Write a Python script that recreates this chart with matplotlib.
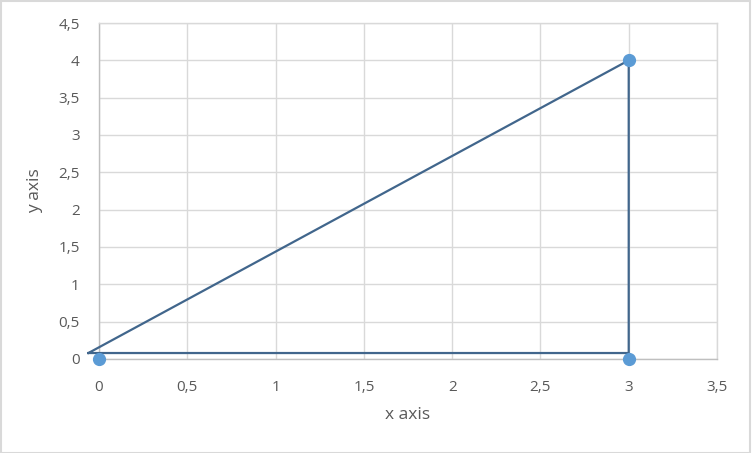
import matplotlib
matplotlib.use("Agg")
import matplotlib.pyplot as plt
from matplotlib.patches import Rectangle

# Data
point_x = [0, 3, 3]
point_y = [0, 0, 4]
line_x = [-0.06, 3.0, 3.0, -0.06]
line_y = [0.08, 0.08, 4.0, 0.08]
x_ticks = [0, 0.5, 1, 1.5, 2, 2.5, 3, 3.5]
x_tick_labels = ["0", "0,5", "1", "1,5", "2", "2,5", "3", "3,5"]
y_ticks = [0, 0.5, 1, 1.5, 2, 2.5, 3, 3.5, 4, 4.5]
y_tick_labels = ["0", "0,5", "1", "1,5", "2", "2,5", "3", "3,5", "4", "4,5"]

plt.rcParams['font.family'] = ['Open Sans', 'DejaVu Sans']

fig = plt.figure(figsize=(7.52, 4.53), dpi=100)
W, H = 752, 453
ax = fig.add_axes([99 / W, (H - 359) / H, (717 - 99) / W, (359 - 23) / H])

ax.plot(line_x, line_y, color="#41668C", linewidth=1.6, zorder=3, clip_on=False)
ax.plot(point_x, point_y, linestyle="none", marker="o", markersize=8.5,
        color="#5B9BD5", zorder=4, clip_on=False)

ax.set_xlim(0, 3.5)
ax.set_ylim(0, 4.5)
ax.set_xticks(x_ticks)
ax.set_xticklabels(x_tick_labels)
ax.set_yticks(y_ticks)
ax.set_yticklabels(y_tick_labels)
ax.tick_params(length=0, labelsize=11, labelcolor="#595959")
ax.tick_params(axis="x", pad=15)
ax.tick_params(axis="y", pad=14)
ax.grid(True, color="#D9D9D9", linewidth=1)
ax.set_axisbelow(True)
for s in ax.spines.values():
    s.set_color("#D9D9D9")
    s.set_linewidth(1)
ax.spines["left"].set_color("#BFBFBF")
ax.spines["bottom"].set_color("#BFBFBF")

ax.set_xlabel("x axis", fontsize=12.5, color="#595959", labelpad=9)
ax.set_ylabel("y axis", fontsize=12.5, color="#595959", labelpad=11)

fig.patches.append(Rectangle((0.001, 0.001), 0.997, 0.997, transform=fig.transFigure,
                             fill=False, edgecolor="#D9D9D9", linewidth=1.5))

fig.savefig("out.png", dpi=100)
